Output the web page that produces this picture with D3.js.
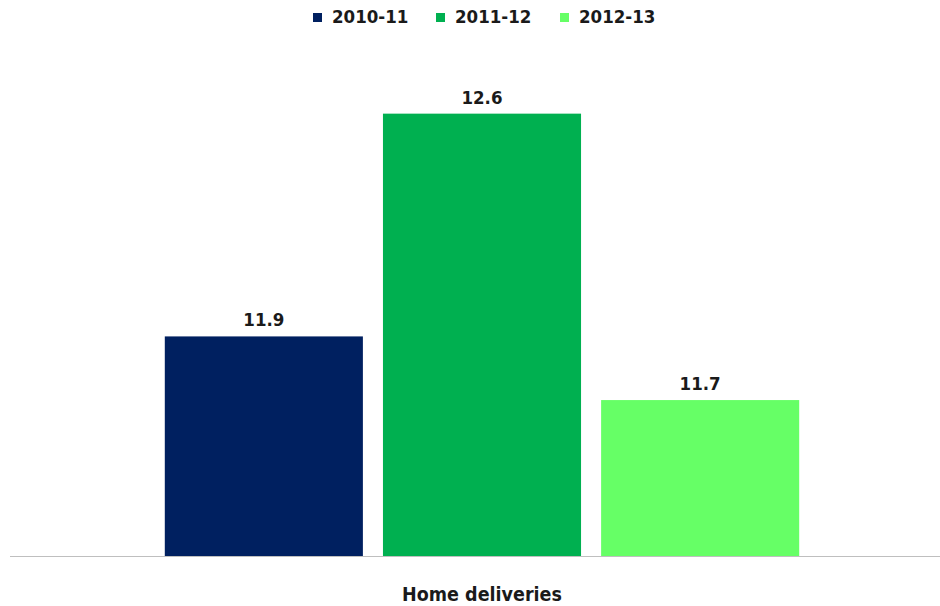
<!DOCTYPE html>
<html lang="en">
<head>
  <meta charset="UTF-8">
  <title>Home deliveries</title>
  <script src="https://d3js.org/d3.v7.min.js"></script>
  <style>
    body { margin: 0; background: #fff; }
    svg text {
      font-family: "Liberation Sans Narrow", "DejaVu Sans Condensed", "Liberation Sans", Arial, sans-serif;
      font-weight: bold;
      fill: #1a1a1a;
    }
    .legend text { font-size: 18.5px; }
    .value { font-size: 18.5px; }
    .cat { font-size: 19.5px; }
  </style>
</head>
<body>
<svg width="940" height="606"></svg>
<script>
  const categories = ["Home deliveries"];
  const series = ["2010-11", "2011-12", "2012-13"];
  const values = [11.9, 12.6, 11.7];
  const colors = ["#002060", "#00B050", "#66FF66"];

  const width = 940, height = 606;
  const margin = {top: 50, bottom: 50, left: 10, right: 0};
  const baseY = height - margin.bottom;

  const svg = d3.select("svg");

  // category band, then series inside it
  const x0 = d3.scaleBand().domain(categories)
      .range([margin.left, 954]).paddingOuter(0.244);
  const x1 = d3.scaleBand().domain(series)
      .range([0, x0.bandwidth()]).paddingInner(0.092);
  const y = d3.scaleLinear().domain([11.21, 12.8]).range([baseY, margin.top]);

  const g = svg.append("g");

  categories.forEach(cat => {
    const grp = g.append("g").attr("transform", `translate(${x0(cat)},0)`);
    grp.selectAll("rect")
        .data(series)
        .join("rect")
        .attr("x", d => x1(d))
        .attr("y", (d, i) => y(values[i]))
        .attr("width", x1.bandwidth())
        .attr("height", (d, i) => baseY - y(values[i]))
        .attr("fill", (d, i) => colors[i]);

    grp.selectAll("text.value")
        .data(series)
        .join("text")
        .attr("class", "value")
        .attr("x", d => x1(d) + x1.bandwidth() / 2)
        .attr("y", (d, i) => y(values[i]) - 10)
        .attr("text-anchor", "middle")
        .text((d, i) => values[i].toFixed(1));

    svg.append("text")
        .attr("class", "cat")
        .attr("x", x0(cat) + x0.bandwidth() / 2)
        .attr("y", 601)
        .attr("text-anchor", "middle")
        .text(cat);
  });

  // baseline
  svg.append("line")
      .attr("x1", margin.left).attr("x2", width)
      .attr("y1", baseY + 0.5).attr("y2", baseY + 0.5)
      .attr("stroke", "#bfbfbf").attr("stroke-width", 1);

  // legend
  const legendX = [313, 436, 560];
  const legend = svg.append("g").attr("class", "legend");
  series.forEach((s, i) => {
    const item = legend.append("g").attr("transform", `translate(${legendX[i]},0)`);
    item.append("rect").attr("x", 0).attr("y", 13).attr("width", 9).attr("height", 9)
        .attr("fill", colors[i]);
    item.append("text").attr("x", 19).attr("y", 23).text(s);
  });
</script>
</body>
</html>
